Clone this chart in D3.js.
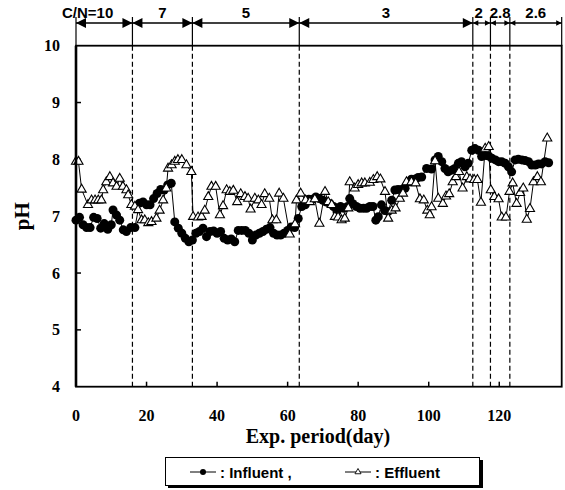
<!DOCTYPE html>
<html>
<head>
<meta charset="utf-8">
<script src="https://cdn.jsdelivr.net/npm/d3@7"></script>
<style>
  html, body { margin: 0; padding: 0; background: #fff; }
  svg { display: block; }
</style>
</head>
<body>
<svg id="chart" width="565" height="490"></svg>
<script>
// ---------------- DATA ----------------
const influentDay = [0,1,2,3,4,5,6,7,8,9,10,10.5,11.5,12.4,13.4,14.3,15.5,16.7,18,19,20,21,22,23,24,25,26,27,28,29,30,31,32,33,34,35,36,37,38,39,40,41,42,43,44,45,46,47,48,49,50,51,52,53,54,55,56,57,58,59,60,61,62,63,64,65,66,67,68,69,70,71,72,73,74,75,76,77,77.6,78.5,79.5,80.5,81.5,82.4,83.3,84.2,85,85.7,86.6,87.5,88.5,89.5,90.4,91.3,92.3,93.3,94.2,95.1,96,97,98,99.4,100.8,101.8,102.7,103.7,104.6,105.5,106.5,107.4,108.4,109.3,110.3,111.2,112.2,113.1,114.1,115,116,117,117.9,118.9,119.8,120.7,121.7,122.6,123.5,124.5,125.4,126.4,127.3,128.3,129.2,130.2,131.1,132,133,134];
const influentPH  = [6.93,6.98,6.85,6.8,6.8,6.98,6.96,6.79,6.87,6.77,6.85,7.11,7.02,6.93,6.76,6.73,6.8,6.8,7.23,7.25,7.2,7.2,7.31,7.4,7.47,7.46,7.55,7.58,6.9,6.79,6.7,6.61,6.55,6.58,6.7,6.73,6.79,6.64,6.73,6.74,6.7,6.73,6.61,6.58,6.6,6.55,6.75,6.75,6.75,6.7,6.58,6.67,6.7,6.73,6.77,6.8,6.7,6.67,6.67,6.7,6.75,6.81,6.8,6.96,7.17,7.2,7.3,7.3,7.34,7.31,7.28,7.25,7.22,7.17,7.08,7.17,7.14,7.17,7.31,7.22,7.17,7.14,7.14,7.14,7.17,7.17,6.93,6.99,7.2,7.1,7.08,7.28,7.46,7.47,7.47,7.49,7.6,7.65,7.65,7.68,7.69,7.84,7.83,7.99,8.05,7.96,7.84,7.78,7.81,7.84,7.93,7.96,7.87,7.93,8.16,8.19,8.16,8.05,8.07,8.06,8.02,7.99,7.96,7.96,7.93,7.87,7.78,7.99,8.0,7.99,7.98,7.96,7.9,7.9,7.92,7.92,7.96,7.94];

const effluentDay = [0,0.7,1.6,3.4,4.4,5.4,6.3,7.2,7.7,8.6,9.6,10.5,11.5,12.4,13.3,14.3,14.8,15.7,16.7,17.6,18.6,19.5,20.5,21.4,22.8,23.7,24.7,25.6,26.1,27.1,28,28.9,30,31.3,32.7,33.2,34.6,35.6,36.5,37.5,38.4,39.6,40.8,41.7,42.7,43.6,44.6,45.7,46.7,47.9,48.8,49.5,50.7,51.7,52.6,53.5,54.8,55.7,56.8,57.6,58.8,60.6,62.1,62.5,63.7,65.1,66.3,67.7,69,70.6,71.5,72.5,73.4,74.3,75.3,76.2,77.2,77.6,79,80,81,81.9,83.3,84.3,85.4,86.3,87.6,88.5,89.5,90.6,91.8,92.7,93.7,95.1,96.3,97.5,98.6,99.6,100.3,100.8,101.8,102.7,104,104.9,105.8,106.8,107.7,108.6,109.6,110.8,111.7,112.9,113.8,114.8,116,117,117.6,118.6,119.8,120.7,121.9,122.9,123.8,124.9,125.9,126.8,127.8,128.7,129.7,130.8,131.8,133.6];
const effluentPH  = [7.96,7.96,7.47,7.2,7.28,7.28,7.28,7.28,7.46,7.6,7.69,7.58,7.52,7.66,7.52,7.46,7.37,7.2,7.17,7.11,6.93,6.93,6.88,6.9,6.96,7.1,7.28,7.49,7.84,7.9,7.96,7.99,7.99,7.9,7.78,6.99,6.98,6.99,7.1,7.34,7.52,7.52,7.02,7.18,7.46,7.43,7.45,7.25,7.39,7.34,7.31,7.12,7.31,7.28,7.2,7.39,7.31,6.93,6.93,7.4,7.31,6.68,6.86,7.28,7.4,7.28,7.25,7.3,6.87,7.43,7.25,7.2,6.99,6.98,6.93,6.96,7.14,7.6,7.49,7.55,7.58,7.58,7.59,7.64,7.69,7.65,7.43,6.96,7.1,7.14,7.31,7.4,7.6,7.6,7.58,7.3,7.28,7.1,7.02,7.16,7.97,7.31,7.22,7.35,7.39,7.6,7.69,7.78,7.49,7.69,7.65,7.64,7.64,7.24,8.19,8.22,7.46,7.34,7.3,6.98,6.98,7.43,7.58,7.22,7.41,7.49,6.94,7.13,7.6,7.69,7.6,8.37];

const cnBounds = [0, 16, 33, 63.3, 112.5, 117.5, 123, 137.7];
const cnLabels = ["C/N=10", "7", "5", "3", "2", "2.8", "2.6"];

const xTicks = [0, 20, 40, 60, 80, 100, 120];
const yTicks = [4, 5, 6, 7, 8, 9, 10];

// ---------------- LAYOUT ----------------
const svg = d3.select("#chart");
const L = 76, R = 561.7, T = 45.7, B = 386.7;
const x = d3.scaleLinear().domain([0, 137.7]).range([L, R]);
const y = d3.scaleLinear().domain([4, 10]).range([B, T]);

const serif = "'Liberation Serif', 'Times New Roman', serif";
const sans = "'Liberation Sans', Arial, sans-serif";

// dashed vertical lines inside plot
svg.append("g").selectAll("line")
  .data(cnBounds.slice(1, -1))
  .join("line")
  .attr("x1", d => x(d)).attr("x2", d => x(d))
  .attr("y1", T).attr("y2", B)
  .attr("stroke", "#000").attr("stroke-width", 1.2)
  .attr("stroke-dasharray", "5,3");

// top solid vertical separators
svg.append("g").selectAll("line")
  .data(cnBounds)
  .join("line")
  .attr("x1", d => x(d)).attr("x2", d => x(d))
  .attr("y1", 17).attr("y2", T)
  .attr("stroke", "#000").attr("stroke-width", 1.2);

// arrows
const arrowY = 23;
const ag = svg.append("g");
for (let i = 0; i < cnLabels.length; i++) {
  const x0 = x(cnBounds[i]), x1 = x(cnBounds[i + 1]);
  const big = i < 4;
  const hl = big ? 10 : 5.5, hw = big ? 5 : 2.8;
  ag.append("line").attr("x1", x0).attr("x2", x1).attr("y1", arrowY).attr("y2", arrowY)
    .attr("stroke", "#000").attr("stroke-width", 1.3);
  ag.append("path").attr("d", `M${x0},${arrowY}L${x0 + hl},${arrowY - hw}L${x0 + hl},${arrowY + hw}Z`).attr("fill", "#000");
  ag.append("path").attr("d", `M${x1},${arrowY}L${x1 - hl},${arrowY - hw}L${x1 - hl},${arrowY + hw}Z`).attr("fill", "#000");
  let cx = (x0 + x1) / 2, anchor = "middle";
  if (i === 0) { cx = x0 - 14; anchor = "start"; }
  if (i === 4) { cx -= 3; }
  ag.append("text").attr("x", cx).attr("y", 18)
    .attr("text-anchor", anchor)
    .attr("font-family", sans).attr("font-weight", "bold").attr("font-size", 15)
    .text(cnLabels[i]);
}

// ticks inside
svg.append("g").selectAll("line")
  .data(xTicks.filter(d => d > 0))
  .join("line")
  .attr("x1", d => x(d)).attr("x2", d => x(d))
  .attr("y1", B).attr("y2", B - 5)
  .attr("stroke", "#000").attr("stroke-width", 1.5);
svg.append("g").selectAll("line")
  .data(yTicks.filter(d => d > 4 && d < 10))
  .join("line")
  .attr("x1", L).attr("x2", L + 5)
  .attr("y1", d => y(d)).attr("y2", d => y(d))
  .attr("stroke", "#000").attr("stroke-width", 1.5);

// tick labels
svg.append("g").selectAll("text")
  .data(xTicks).join("text")
  .attr("x", d => x(d)).attr("y", 421)
  .attr("text-anchor", "middle")
  .attr("font-family", serif).attr("font-weight", "bold").attr("font-size", 16)
  .text(d => d);
svg.append("g").selectAll("text")
  .data(yTicks).join("text")
  .attr("x", 60).attr("y", d => y(d) + 5.5)
  .attr("text-anchor", "end")
  .attr("font-family", serif).attr("font-weight", "bold").attr("font-size", 16)
  .text(d => d);

// axis titles
svg.append("text")
  .attr("x", 318).attr("y", 443)
  .attr("text-anchor", "middle")
  .attr("font-family", serif).attr("font-weight", "bold").attr("font-size", 20)
  .text("Exp. period(day)");
svg.append("text")
  .attr("transform", `translate(29,${(T + B) / 2}) rotate(-90)`)
  .attr("text-anchor", "middle")
  .attr("font-family", serif).attr("font-weight", "bold").attr("font-size", 21)
  .text("pH");

// series
const inf = influentDay.map((d, i) => [d, influentPH[i]]);
const eff = effluentDay.map((d, i) => [d, effluentPH[i]]);
const line = d3.line().x(d => x(d[0])).y(d => y(d[1]));

svg.append("path").datum(inf).attr("d", line)
  .attr("fill", "none").attr("stroke", "#000").attr("stroke-width", 1);
svg.append("g").selectAll("circle").data(inf).join("circle")
  .attr("cx", d => x(d[0])).attr("cy", d => y(d[1])).attr("r", 4.5)
  .attr("fill", "#000");

svg.append("path").datum(eff).attr("d", line)
  .attr("fill", "none").attr("stroke", "#000").attr("stroke-width", 1);
const tri = d3.symbol(d3.symbolTriangle, 36);
svg.append("g").selectAll("path").data(eff).join("path")
  .attr("d", tri)
  .attr("transform", d => `translate(${x(d[0])},${y(d[1])})`)
  .attr("fill", "#fff").attr("stroke", "#000").attr("stroke-width", 1.1);

// frame
svg.append("rect").attr("x", L).attr("y", T).attr("width", R - L).attr("height", B - T)
  .attr("fill", "none").attr("stroke", "#000").attr("stroke-width", 1.8);
svg.append("line").attr("x1", L).attr("x2", L).attr("y1", T).attr("y2", B)
  .attr("stroke", "#000").attr("stroke-width", 2.6);

// legend
const lg = svg.append("g");
lg.append("rect").attr("x", 168).attr("y", 460).attr("width", 315).attr("height", 28)
  .attr("fill", "#000");
lg.append("rect").attr("x", 165.5).attr("y", 457.5).attr("width", 314).attr("height", 28)
  .attr("fill", "#fff").attr("stroke", "#000").attr("stroke-width", 1);
lg.append("line").attr("x1", 190).attr("x2", 216).attr("y1", 472).attr("y2", 472)
  .attr("stroke", "#000").attr("stroke-width", 1);
lg.append("circle").attr("cx", 203).attr("cy", 472).attr("r", 3).attr("fill", "#000");
lg.append("text").attr("x", 220).attr("y", 477.5)
  .attr("font-family", sans).attr("font-weight", "bold").attr("font-size", 15)
  .text(": Influent ,");
lg.append("line").attr("x1", 345).attr("x2", 371).attr("y1", 472).attr("y2", 472)
  .attr("stroke", "#000").attr("stroke-width", 1);
lg.append("path").attr("d", d3.symbol(d3.symbolTriangle, 16))
  .attr("transform", "translate(358,472)")
  .attr("fill", "#fff").attr("stroke", "#000").attr("stroke-width", 0.9);
lg.append("text").attr("x", 375).attr("y", 477.5)
  .attr("font-family", sans).attr("font-weight", "bold").attr("font-size", 15)
  .text(": Effluent");
</script>
</body>
</html>
